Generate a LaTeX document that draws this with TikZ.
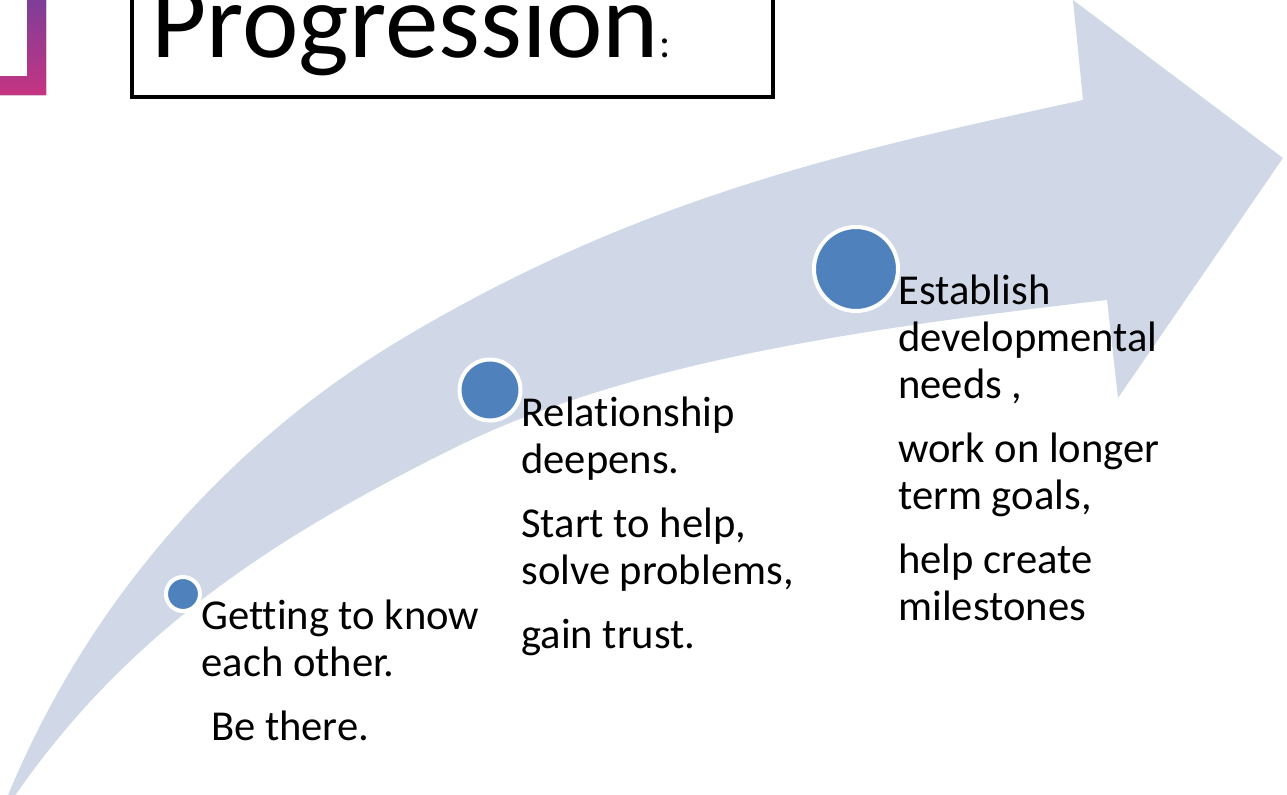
\documentclass[tikz,border=0pt]{standalone}
\usepackage{fontspec}
\setmainfont[Ligatures=NoCommon]{Carlito}
\usepackage{tikz}
\usetikzlibrary{positioning}

\definecolor{arrowfill}{RGB}{208,216,232}
\definecolor{dotblue}{RGB}{79,129,189}
\definecolor{brackettop}{RGB}{125,62,152}
\definecolor{bracketbot}{RGB}{198,52,130}

\begin{document}
\begin{tikzpicture}[x=0.5pt, y=-0.5pt,
    dot/.style={circle, fill=dotblue, draw=white, line width=2pt, inner sep=0pt},
    steptext/.style={anchor=base west, inner sep=0pt, align=left,
      font=\fontsize{21.3}{23.5}\selectfont}]

      \useasboundingbox (0,0) rectangle (1287,794);
      \clip (0,0) rectangle (1287,794);

      % corner bracket
      \fill [top color=brackettop, bottom color=bracketbot]
        (27,-2) -- (46,-2) -- (46,95) -- (0,95) -- (0,76) -- (27,76) -- cycle;

      % title box
      \draw [line width=2pt] (132,-20) rectangle (773,97);
      \node [anchor=base west, inner sep=0pt, font=\fontsize{53.5}{60}\selectfont]
        (title) at (151,57) {Progression{\fontsize{21}{24}\selectfont:}};

      % curved arrow
      \fill [arrowfill] (6,800)
        .. controls (96,580) and (250,430) .. (400,340)
        .. controls (640,196) and (853,150) .. (1083,100)
        -- (1073,0) -- (1283,158) -- (1118,398) -- (1107,300)
        .. controls (847,330) and (620,365) .. (450,450)
        .. controls (290,530) and (132,624) .. (12,800)
        -- cycle;

      % steps (text nodes sit on the baseline of their last line)
      \node [dot, minimum size=17pt] (dot1) at (183,594) {};
      \node [dot, minimum size=30.5pt] (dot2) at (490,390) {};
      \node [dot, minimum size=42pt] (dot3) at (856,269) {};

      \node [steptext] (txt1) at (201,740)
        {Getting to know\\each other.\\[8.5pt]\ Be there.};
      \node [steptext] (txt2) at (521,648)
        {Relationship\\deepens.\\[8.5pt]Start to help,\\solve problems,\\[8.5pt]gain trust.};
      \node [steptext] (txt3) at (898,620)
        {Establish\\developmental\\needs ,\\[8.5pt]work on longer\\term goals,\\[8.5pt]help create\\milestones};

    \end{tikzpicture}
\end{document}
